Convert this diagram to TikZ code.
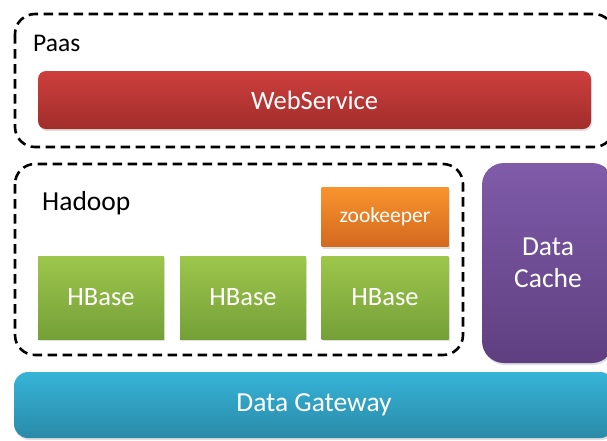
\documentclass[tikz,border=0pt]{standalone}
\usepackage{fontspec}
\setmainfont{Carlito}
\usetikzlibrary{shadows}
\definecolor{redT}{HTML}{CD3F3D}
\definecolor{redB}{HTML}{A12D2B}
\definecolor{grnT}{HTML}{9DC64B}
\definecolor{grnB}{HTML}{75A038}
\definecolor{orgT}{HTML}{F9932D}
\definecolor{orgB}{HTML}{D3691F}
\definecolor{purT}{HTML}{7F5BA9}
\definecolor{purB}{HTML}{5F3F80}
\definecolor{bluT}{HTML}{36B4D8}
\definecolor{bluB}{HTML}{2A8AA8}
\tikzset{
  x=1pt, y=-1pt,
  block/.style={rectangle, inner sep=0pt, text=white, font=\fontsize{26.5}{32}\selectfont,
    align=center, drop shadow={opacity=0.25, shadow xshift=1pt, shadow yshift=-2pt}},
  group/.style={draw=black, line width=2.6pt, dash pattern=on 9.5pt off 5.5pt, rounded corners=20pt},
  grouplabel/.style={anchor=base west, inner sep=0pt, text=black, font=\fontsize{26}{30}\selectfont},
}
\begin{document}
\begin{tikzpicture}
\useasboundingbox (0,0) rectangle (607,440);
\clip (0,0) rectangle (607,440);
% Paas group
\draw[group] (15,14) rectangle (614,147);
\node[grouplabel, font=\fontsize{25.5}{30}\selectfont] (paas) at (33,51) {Paas};
\node[block, rounded corners=8pt, top color=redT, bottom color=redB,
  minimum width=553pt, minimum height=58pt] (web) at (314.5,100) {WebService};
% Hadoop group
\draw[group] (15,164) rectangle (463,355);
\node[grouplabel, font=\fontsize{27.5}{30}\selectfont] (hadoop) at (42,210) {Hadoop};
\node[block, top color=orgT, bottom color=orgB, font=\fontsize{21.5}{24}\selectfont,
  minimum width=127pt, minimum height=59pt] (zk) at (385,217) {zookeeper};
\node[block, top color=grnT, bottom color=grnB,
  minimum width=126pt, minimum height=83pt] (hb1) at (101,297.5) {HBase};
\node[block, top color=grnT, bottom color=grnB,
  minimum width=126pt, minimum height=83pt] (hb2) at (243,297.5) {HBase};
\node[block, top color=grnT, bottom color=grnB,
  minimum width=127pt, minimum height=83pt] (hb3) at (385,297.5) {HBase};
% Data Cache
\node[block, rounded corners=22pt, top color=purT, bottom color=purB, font=\fontsize{27.5}{32}\selectfont,
  minimum width=132pt, minimum height=200pt] (cache) at (548,263) {Data\\Cache};
% Data Gateway
\node[block, rounded corners=14pt, top color=bluT, bottom color=bluB, font=\fontsize{27.5}{32}\selectfont,
  minimum width=600pt, minimum height=66pt] (gw) at (314,405) {Data Gateway};
\end{tikzpicture}
\end{document}
